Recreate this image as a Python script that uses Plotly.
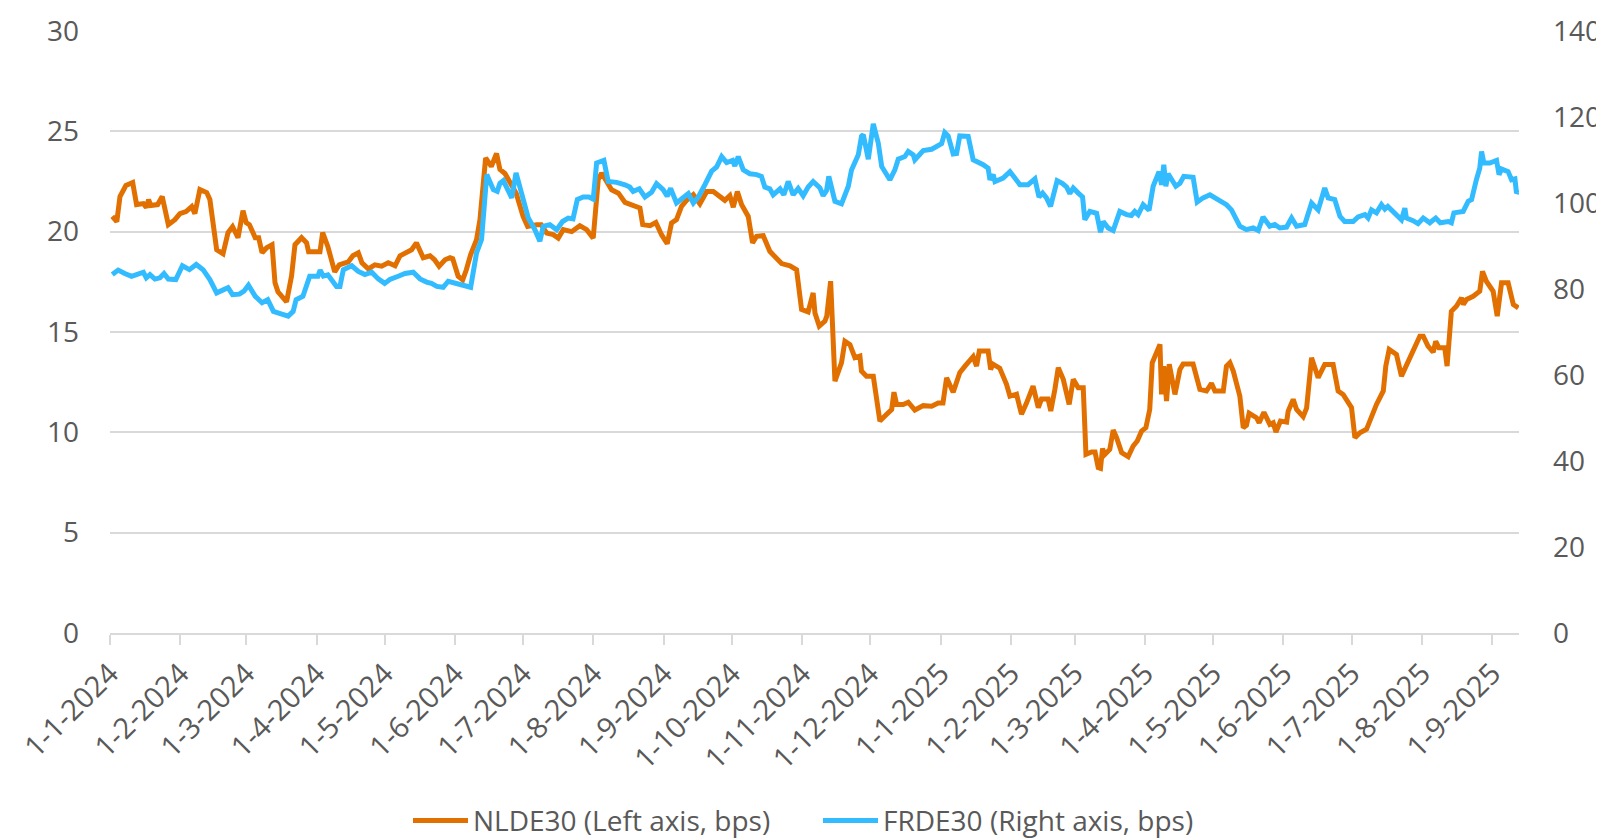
import pandas as pd
import plotly.graph_objects as go

START = "2024-01-01"

# NLDE30 spread (left axis, bps): day offset from 1-1-2024 and value
nl_day = [1, 3, 4.4, 7, 10, 11.7, 14.7, 16, 17, 18, 21, 23, 25.7, 28.6, 30.8, 33.5, 36, 37.4,
          39.6, 42.6, 44, 45.5, 47, 49.8, 52, 54, 56.4, 58.6, 60, 61.4, 64, 65.5, 67, 69, 71.4,
          72.7, 74, 77.8, 80, 81.5, 84.4, 86.6, 87.5, 92.5, 93.7, 96, 99, 101, 105, 107, 109.4,
          111, 113.8, 116.7, 119.7, 122.6, 125.6, 127.8, 130.7, 132.9, 135, 138, 141, 143, 145,
          147.6, 149.8, 151, 153.4, 155.4, 157, 158.9, 161.5, 163, 165.5, 168, 170.3, 171.8, 174,
          176, 179, 182, 184, 188, 190, 192.4, 195.3, 197.5, 199.7, 203.4, 207, 210, 212.9, 215.1,
          216.6, 218.8, 221, 224, 226.9, 229.8, 233.5, 234.7, 237.9, 240.5, 243, 245.5, 247.4,
          249.6, 251.8, 254, 257, 259.9, 262.9, 265.8, 268.7, 270.9, 273.1, 274.6, 276.4, 278.3,
          281.2, 283.1, 284.9, 287.8, 290.7, 293.7, 295.9, 299.6, 302.5, 304.7, 307.6, 309.8,
          310.6, 312.5, 315, 315.8, 317.5, 319.4, 322.3, 323.8, 326, 328.2, 330.4, 331.1, 333.3,
          336.3, 339.2, 342.2, 344.4, 345.4, 346.6, 349.5, 351.7, 354.6, 358.3, 362, 364.9, 367,
          368.6, 371.5, 374.4, 376.7, 380.3, 381.8, 383, 386.9, 388, 389, 392, 395, 396.5, 399.4,
          401.6, 403.8, 406.7, 409, 410.4, 413.3, 414.5, 416.3, 417.8, 420, 422.6, 424.4, 426.6,
          428.8, 430, 432.5, 434, 435.4, 436.4, 437.3, 438.3, 440.5, 442, 443.5, 445.7, 448.6,
          450.8, 452.6, 454.5, 456.4, 458.1, 459.2, 461.1, 462.6, 463.3, 464.3, 465.5, 466.7,
          469.2, 471.4, 472.8, 477.2, 480.2, 483.1, 485.3, 486.8, 490.5, 491.9, 493.4, 494.9,
          497.8, 499.3, 500.7, 501.9, 505.1, 506.3, 508.4, 511, 512.5, 513.7, 515.7, 518.4, 519.1,
          521.3, 522.8, 525.7, 527.2, 529.4, 532.3, 535.2, 538.9, 541.1, 543.3, 547, 548.5, 550.7,
          553.6, 555.8, 558, 561, 562.1, 563.6, 566.8, 569, 571.2, 574.9, 577.1, 578.6, 580.7, 583,
          584.1, 585.5, 588.1, 589.1, 591, 593.2, 595.5, 596.3, 597.7, 600.6, 603.5, 604.7, 606.4,
          609.4, 611.2, 613.1, 616, 618.3, 620.5]
nl_val = [20.76, 20.5, 21.75, 22.3, 22.45, 21.35, 21.4, 21.2, 21.6, 21.3, 21.35, 21.75, 20.35,
          20.6, 20.9, 21.0, 21.25, 20.9, 22.1, 21.95, 21.6, 20.35, 19.1, 18.9, 19.95, 20.25, 19.7,
          21.05, 20.45, 20.35, 19.7, 19.7, 18.95, 19.2, 19.35, 17.45, 17.0, 16.5, 17.8, 19.35, 19.7,
          19.45, 19.0, 19.0, 19.95, 19.25, 18.0, 18.35, 18.5, 18.8, 18.95, 18.45, 18.15, 18.35,
          18.28, 18.45, 18.3, 18.8, 18.97, 19.1, 19.44, 18.7, 18.8, 18.6, 18.28, 18.6, 18.7, 18.65,
          17.78, 17.6, 18.1, 18.86, 19.6, 20.6, 23.67, 23.25, 23.9, 23.1, 22.9, 22.5, 21.9, 20.76,
          20.26, 20.35, 20.35, 19.93, 19.85, 19.68, 20.1, 20.0, 20.3, 20.1, 19.68, 22.59, 22.92,
          22.5, 22.09, 21.92, 21.46, 21.34, 21.18, 20.35, 20.3, 20.46, 19.85, 19.4, 20.43, 20.6,
          21.26, 21.56, 21.84, 21.39, 22.0, 22.0, 21.76, 21.56, 21.8, 21.22, 22.0, 21.34, 20.76,
          19.44, 19.77, 19.8, 19.02, 18.69, 18.41, 18.3, 18.1, 16.12, 16.0, 16.95, 15.95, 15.29,
          15.54, 15.79, 17.53, 12.55, 13.47, 14.54, 14.37, 13.72, 13.8, 13.05, 12.8, 12.8, 10.56,
          10.9, 11.14, 12.0, 11.39, 11.39, 11.5, 11.11, 11.33, 11.3, 11.46, 11.46, 12.72, 12.0,
          12.97, 13.3, 13.77, 13.3, 14.05, 14.05, 13.13, 13.4, 13.2, 12.39, 11.8, 11.9, 10.9, 11.46,
          12.3, 11.23, 11.66, 11.66, 11.06, 12.14, 13.22, 12.64, 11.39, 12.64, 12.22, 12.22, 8.9,
          9.02, 9.02, 8.24, 8.2, 9.19, 8.9, 9.15, 10.11, 9.73, 8.99, 8.79, 9.32, 9.57, 10.06, 10.23,
          11.14, 13.47, 13.97, 14.38, 11.89, 13.3, 11.56, 13.4, 11.89, 13.13, 13.4, 13.4, 12.14,
          12.06, 12.44, 12.06, 12.06, 13.3, 13.47, 13.05, 11.8, 10.23, 10.35, 10.95, 10.73, 10.48,
          11.0, 10.4, 10.48, 10.02, 10.56, 10.51, 11.06, 11.64, 11.14, 10.78, 11.2, 13.72, 12.72,
          13.38, 13.38, 12.06, 11.89, 11.23, 9.73, 9.98, 10.15, 10.81, 11.39, 12.06, 13.3, 14.13,
          13.88, 12.8, 13.38, 14.21, 14.79, 14.79, 14.3, 14.0, 14.54, 14.21, 14.21, 13.3, 16.03,
          16.28, 16.7, 16.37, 16.62, 16.78, 17.03, 18.02, 17.53, 17.03, 15.79, 17.45, 17.45, 16.37,
          16.2]

# FRDE30 spread (right axis, bps): day offset from 1-1-2024 and value
fr_day = [1, 3.6, 6.5, 9.5, 11.7, 14.7, 16, 17.6, 19.8, 22, 23.8, 25.7, 29, 31.9, 35, 38, 41, 44,
          47, 49, 52, 54, 57, 59, 61, 64, 67, 69.5, 72, 75, 78.5, 80.7, 82, 85, 88, 91.6, 92.6, 94,
          96, 99.8, 101.3, 102.8, 106.5, 109.4, 112.3, 115.3, 118.2, 121, 123.3, 127, 130, 133.6,
          136.6, 139.5, 141.6, 144, 146.8, 149, 152, 155.6, 158.9, 161.5, 163.7, 166, 168.9, 170.6,
          171.8, 173.3, 177, 178.9, 181.4, 184.3, 187.2, 189.4, 190.9, 193.8, 196.8, 199.4, 201.9,
          204, 205.9, 208.5, 211, 212.9, 214.4, 217.6, 219.5, 223.2, 226.9, 229, 230.5, 233.2,
          235.7, 238.6, 240.8, 243.7, 245.5, 247, 249.6, 251.8, 254.8, 257, 259.2, 262.1, 265.1,
          267.3, 269.5, 271.7, 274.3, 275.3, 276.8, 279, 281.9, 284.9, 287, 288.5, 290.7, 292.2,
          295.2, 296.9, 298.8, 301, 303.2, 305.4, 307.6, 309.8, 312.8, 314.2, 315.7, 316.7, 319.4,
          322.3, 325.3, 326.7, 329.7, 331.1, 331.9, 334.1, 336.3, 338.5, 340, 343.6, 345.8, 347.3,
          350.2, 351.7, 353.9, 354.6, 358.3, 362, 364.9, 366.4, 367.8, 369.3, 371.5, 373, 374.4,
          378.1, 380.3, 381.8, 384.7, 386.9, 387.7, 389.1, 389.9, 393.5, 396.5, 400.9, 404.5,
          407.5, 409.3, 410.9, 412.6, 414.4, 417.3, 419.7, 421.5, 422.9, 424.4, 426.6, 428.5,
          429.5, 431.7, 434.7, 436.4, 437.6, 439.8, 442, 444.9, 447.9, 450, 451.5, 453, 455.2,
          457.8, 459.6, 462.2, 463.3, 464.3, 465.2, 466.2, 469.6, 471.4, 473.1, 477.2, 479, 481.6,
          484.6, 487.5, 491.9, 494.1, 497.8, 500.7, 503.7, 505.9, 508, 511, 513.2, 515.4, 518.4,
          520.6, 522.8, 526.4, 529.4, 532.3, 535.2, 536.7, 539.6, 541.9, 544, 547.7, 549.9, 552.9,
          554.3, 555.8, 558, 560.2, 561.7, 563, 566.1, 569, 570.5, 571.2, 574.1, 576.3, 578.6,
          581.5, 584.1, 586.1, 589.6, 591, 592.1, 596.2, 598.4, 599.9, 602, 603.5, 604.3, 605.3,
          607.9, 610.9, 612, 613.1, 616, 617.5, 619, 619.7, 620.8]
fr_val = [83.35, 84.4, 83.6, 82.96, 83.35, 83.9, 82.6, 83.35, 82.3, 82.6, 83.6, 82.3, 82.2, 85.4,
          84.5, 85.7, 84.5, 82.2, 79.1, 79.5, 80.3, 78.7, 78.8, 79.5, 80.9, 78.3, 76.8, 77.5, 74.8,
          74.3, 73.7, 74.8, 77.5, 78.3, 82.96, 82.96, 84.4, 83.0, 83.3, 80.6, 80.6, 84.5, 85.4,
          84.1, 83.35, 83.9, 82.35, 81.3, 82.2, 82.96, 83.6, 83.9, 82.35, 81.6, 81.3, 80.6, 80.4,
          81.8, 81.4, 81.1, 80.4, 88.4, 91.5, 106.6, 103.1, 102.7, 104.6, 105.2, 101.2, 107.0,
          102.3, 96.5, 93.8, 91.1, 94.6, 94.96, 93.8, 95.7, 96.5, 96.3, 100.8, 101.4, 101.4, 100.9,
          109.3, 109.9, 105.0, 104.8, 104.25, 103.7, 102.7, 103.3, 101.4, 102.5, 104.5, 103.1,
          101.6, 103.4, 100.0, 100.9, 102.2, 100.0, 101.4, 104.25, 107.4, 108.4, 110.8, 109.4,
          109.9, 108.6, 110.8, 107.7, 106.8, 106.6, 106.2, 103.7, 103.3, 101.9, 103.3, 101.9,
          105.0, 101.9, 103.4, 101.7, 103.7, 105.0, 103.5, 101.7, 102.9, 106.2, 100.4, 99.8, 103.9,
          107.7, 111.2, 115.5, 115.9, 110.2, 118.4, 113.9, 108.5, 105.4, 107.7, 110.2, 110.8,
          112.0, 111.2, 110.05, 112.2, 112.5, 113.5, 113.8, 116.4, 115.6, 111.4, 111.5, 115.6,
          115.5, 110.05, 109.7, 108.9, 108.1, 105.4, 106.6, 105.0, 105.8, 107.3, 104.25, 104.25,
          105.6, 101.4, 102.3, 101.2, 99.2, 105.2, 104.5, 103.7, 102.2, 103.5, 102.3, 101.4, 96.1,
          98.05, 97.6, 93.2, 95.7, 94.2, 93.6, 98.05, 97.3, 97.1, 98.05, 97.3, 99.6, 98.3, 103.9,
          107.3, 104.25, 108.9, 103.9, 106.8, 103.9, 104.6, 106.2, 106.0, 100.2, 101.2, 101.9,
          101.0, 99.6, 98.4, 94.6, 93.8, 94.2, 93.6, 96.75, 94.6, 95.0, 94.2, 94.4, 96.5, 94.6,
          95.0, 100.0, 98.4, 103.5, 101.2, 100.8, 96.9, 95.7, 95.7, 96.75, 97.3, 96.5, 98.4, 97.7,
          99.6, 98.6, 99.2, 97.7, 96.1, 98.8, 96.5, 95.9, 95.2, 96.5, 95.4, 96.5, 95.4, 95.7, 95.4,
          97.7, 98.05, 100.4, 100.8, 105.4, 108.1, 112.0, 109.3, 109.3, 109.9, 106.6, 107.9,
          107.3, 105.4, 105.6, 102.3, 102.9]

series_names = ["NLDE30 (Left axis, bps)", "FRDE30 (Right axis, bps)"]
left_ticks = [0, 5, 10, 15, 20, 25, 30]
right_ticks = [0, 20, 40, 60, 80, 100, 120, 140]


def to_dates(days):
    return pd.Timestamp(START) + pd.to_timedelta(pd.Series(days, dtype=float), unit="D")


FONT = "Open Sans, Liberation Sans, sans-serif"
TXT = "#595959"
GRID = "#d9d9d9"

# page body has an 8px default margin, so the figure is sized/offset to compensate
W, H = 1596, 832

fig = go.Figure()
fig.add_trace(go.Scatter(x=to_dates(nl_day), y=nl_val, name=series_names[0], mode="lines",
                         line=dict(color="#E17000", width=5), yaxis="y"))
fig.add_trace(go.Scatter(x=to_dates(fr_day), y=fr_val, name=series_names[1], mode="lines",
                         line=dict(color="#33BBFF", width=5), yaxis="y2"))

fig.update_layout(
    width=W, height=H,
    margin=dict(l=102, r=85, t=23, b=207, autoexpand=False),
    paper_bgcolor="white", plot_bgcolor="white",
    font=dict(family=FONT, size=28, color=TXT),
    showlegend=True,
    legend=dict(orientation="h", xref="container", yref="container", x=400 / W, y=0.023,
                xanchor="left", yanchor="middle", font=dict(size=28, color=TXT),
                itemwidth=55, entrywidth=340, entrywidthmode="pixels", tracegroupgap=0),
    xaxis=dict(type="date", range=["2024-01-01", "2025-09-12 19:00"],
               tick0="2024-01-01", dtick="M1", tickformat="%-d-%-m-%Y", tickangle=-45,
               showgrid=False, showline=True, linecolor=GRID, linewidth=2,
               ticks="outside", ticklen=10, tickcolor=GRID, tickwidth=2, automargin=False,
               tickfont=dict(size=29, color=TXT), zeroline=False),
    yaxis=dict(range=[0, 30], tickvals=left_ticks, showgrid=True, gridcolor=GRID, gridwidth=2,
               zeroline=False, showline=False, ticks="", ticklabelstandoff=30, automargin=False,
               tickfont=dict(size=28, color=TXT)),
    yaxis2=dict(range=[0, 140], tickvals=right_ticks, overlaying="y", side="right",
                showgrid=False, zeroline=False, showline=False, ticks="", ticklabelstandoff=33,
                automargin=False, tickfont=dict(size=28, color=TXT)),
)

fig.write_html("out.html")
